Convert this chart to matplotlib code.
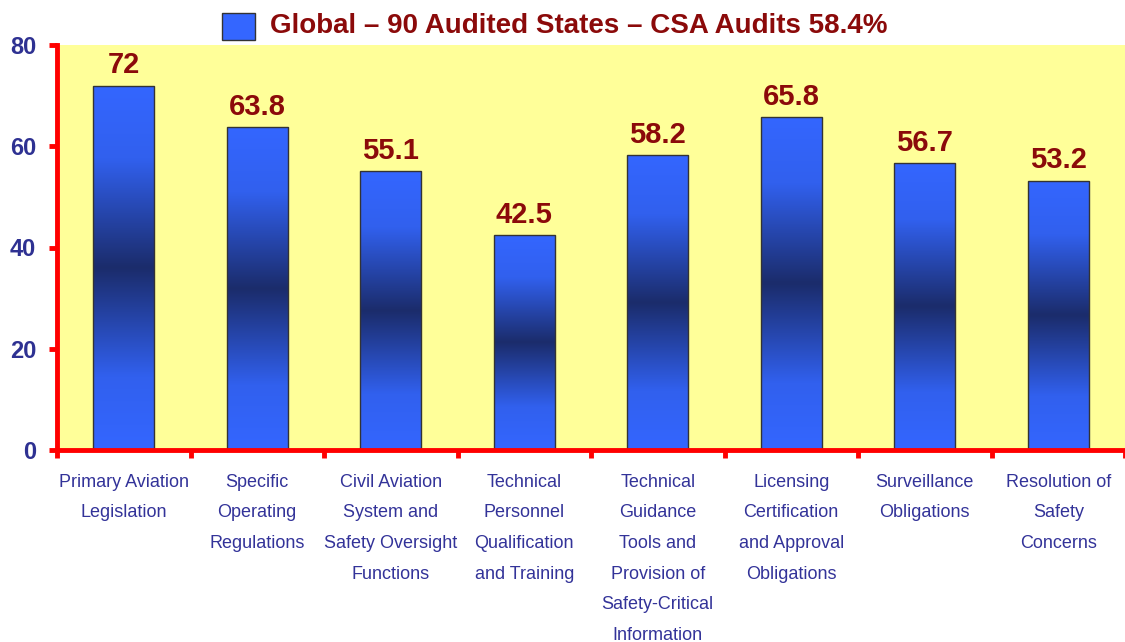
import numpy as np
import matplotlib
matplotlib.use("Agg")
import matplotlib.pyplot as plt
from matplotlib.colors import LinearSegmentedColormap
from matplotlib.patches import Rectangle

categories = [
    "Primary Aviation\nLegislation",
    "Specific\nOperating\nRegulations",
    "Civil Aviation\nSystem and\nSafety Oversight\nFunctions",
    "Technical\nPersonnel\nQualification\nand Training",
    "Technical\nGuidance\nTools and\nProvision of\nSafety-Critical\nInformation",
    "Licensing\nCertification\nand Approval\nObligations",
    "Surveillance\nObligations",
    "Resolution of\nSafety\nConcerns",
]
values = [72, 63.8, 55.1, 42.5, 58.2, 65.8, 56.7, 53.2]
value_labels = ["72", "63.8", "55.1", "42.5", "58.2", "65.8", "56.7", "53.2"]
yticks = [0, 20, 40, 60, 80]
legend_label = "Global \u2013 90 Audited States \u2013 CSA Audits 58.4%"

plt.rcParams['font.family'] = ['Liberation Sans', 'DejaVu Sans']

fig = plt.figure(figsize=(11.25, 6.42), dpi=100)
ax = fig.add_axes([57/1125, (642-450)/642, 1 - 57/1125, (450-45)/642])
ax.set_facecolor('#ffff99')

n = len(values)
x = np.arange(n)

cmap = LinearSegmentedColormap.from_list(
    'barg', [(0, '#3466ff'), (0.2, '#3160ee'), (0.5, '#1b2c6b'),
             (0.8, '#3160ee'), (1.0, '#3466ff')])
grad = np.linspace(0, 1, 256).reshape(-1, 1)

width = 0.46
bars = ax.bar(x, values, width=width, color='none', edgecolor='#333333',
              linewidth=1.0, zorder=3)
for b, v in zip(bars, values):
    x0 = b.get_x()
    im = ax.imshow(grad, cmap=cmap, aspect='auto',
                   extent=[x0, x0 + b.get_width(), 0, v],
                   origin='lower', zorder=2, interpolation='bicubic')
    clip = Rectangle((x0, 0), b.get_width(), v, transform=ax.transData)
    im.set_clip_path(clip)
ax.set_xlim(-0.5, n - 0.5)
ax.set_ylim(0, 80)

for xi, v, lab in zip(x, values, value_labels):
    ax.annotate(lab, (xi, v), xytext=(0, 4.5), textcoords='offset points',
                ha='center', va='bottom', fontsize=21, fontweight='bold',
                color='#8b0a0a', zorder=5)

for s in ['top', 'right']:
    ax.spines[s].set_visible(False)
for s in ['left', 'bottom']:
    ax.spines[s].set_color('#ff0000')
    ax.spines[s].set_linewidth(3.5)
    ax.spines[s].set_zorder(6)

ax.set_yticks(yticks)
ax.set_yticklabels([str(t) for t in yticks], fontsize=17, fontweight='bold',
                   color='#2e3192')
ax.tick_params(axis='y', colors='#ff0000', length=6, width=3.5, direction='out',
               pad=9, labelcolor='#2e3192')

ax.set_xticks(x)
ax.set_xticklabels(categories, fontsize=13, color='#333399',
                   linespacing=2.05, va='top')
ax.tick_params(axis='x', which='major', length=0, pad=17)
ax.set_xticks(np.arange(n + 1) - 0.5, minor=True)
ax.tick_params(axis='x', which='minor', colors='#ff0000', length=6, width=3.5,
               direction='out')

# legend
fig.patches.append(Rectangle((222/1125, 1 - 40/642), 33/1125, 27/642,
                             transform=fig.transFigure, facecolor='#3466ff',
                             edgecolor='#333333', linewidth=1.0))
fig.text(270/1125, 1 - 26/642, legend_label, fontsize=20, fontweight='bold',
         color='#8b0a0a', ha='left', va='center')

fig.savefig('out.png', dpi=100, facecolor='white')
